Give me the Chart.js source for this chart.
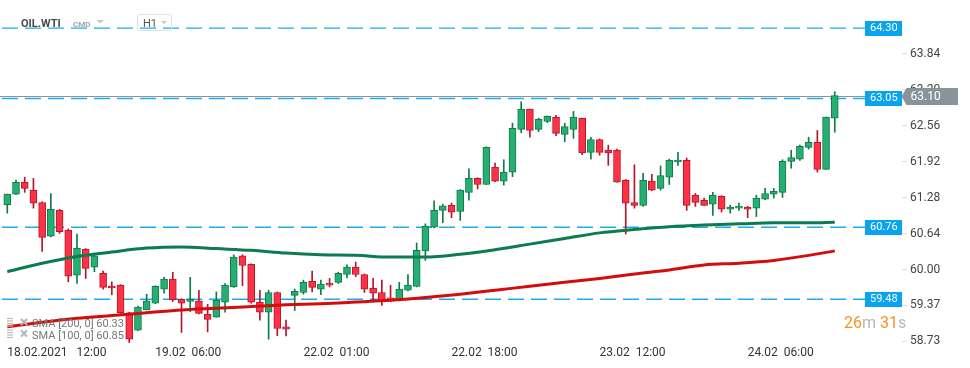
<!DOCTYPE html>
<html>
<head>
<meta charset="utf-8">
<script src="https://cdn.jsdelivr.net/npm/chart.js@4"></script>
<style>
  html, body { margin: 0; padding: 0; background: #fff; }
  canvas { display: block; }
</style>
</head>
<body>
<canvas id="chart" width="970" height="368"></canvas>
<script>
// OIL.WTI H1 candles
const open  = [61.16,61.35,61.56,61.42,61.20,60.60,61.06,60.71,59.91,60.37,60.05,59.94,59.71,59.73,59.24,58.93,59.29,59.41,59.66,59.84,
               59.48,59.44,59.45,59.21,59.16,59.43,59.70,60.25,60.10,59.43,59.25,59.60,58.99,59.55,59.60,59.80,59.66,59.76,59.78,59.92,
               60.05,59.92,59.68,59.60,59.49,59.46,59.64,59.71,60.34,60.76,61.06,61.15,61.04,61.38,61.63,61.52,61.83,61.58,61.74,62.50,
               62.86,62.50,62.64,62.72,62.41,62.50,62.70,62.09,62.32,62.13,62.13,61.60,61.20,61.15,61.58,61.45,61.65,61.92,61.95,61.33,
               61.24,61.17,61.31,61.08,61.10,61.12,61.10,61.26,61.35,61.38,61.93,61.97,62.18,62.27,61.79,62.70];
const high  = [61.35,61.60,61.65,61.63,61.21,61.36,61.08,60.73,60.64,60.38,60.30,59.98,59.79,59.74,59.25,59.36,59.57,59.72,59.87,59.96,
               59.49,59.87,59.64,59.39,59.61,59.76,60.27,60.27,60.11,59.64,59.64,59.61,59.11,59.66,59.82,59.98,59.82,59.85,59.96,60.09,
               60.14,59.93,59.85,59.82,59.73,59.78,59.92,60.48,60.82,61.23,61.17,61.19,61.43,61.80,61.64,62.19,61.90,61.96,62.61,62.99,
               62.86,62.70,62.74,62.75,62.61,62.82,62.70,62.36,62.33,62.22,62.15,61.61,61.87,61.72,61.70,61.85,61.97,62.09,61.99,61.36,
               61.28,61.38,61.32,61.15,61.19,61.13,61.33,61.45,61.45,61.96,62.13,62.22,62.36,62.48,62.72,63.17];
const low   = [61.01,61.34,61.38,61.10,60.33,60.59,60.65,59.79,59.76,59.85,59.97,59.66,59.56,59.23,58.71,58.92,59.29,59.40,59.59,59.44,
               58.89,59.26,59.22,58.90,59.16,59.25,59.69,59.72,59.41,59.11,58.77,58.83,58.83,59.28,59.57,59.61,59.56,59.70,59.76,59.86,
               59.88,59.60,59.47,59.37,59.44,59.45,59.63,59.70,60.17,60.75,60.84,60.93,60.88,61.24,61.44,61.52,61.57,61.51,61.66,62.44,
               62.36,62.46,62.62,62.39,62.28,62.34,62.05,61.97,62.04,61.86,61.56,60.64,61.10,61.13,61.41,61.42,61.52,61.86,61.06,61.13,
               61.15,60.97,61.03,61.01,61.06,60.93,60.95,61.25,61.28,61.29,61.81,61.95,62.15,61.74,61.79,62.45];
const close = [61.35,61.56,61.45,61.19,60.58,61.08,60.68,59.89,60.39,60.03,60.25,59.69,59.68,59.24,58.77,59.34,59.45,59.71,59.84,59.47,
               59.41,59.48,59.23,59.12,59.46,59.73,60.23,60.08,59.43,59.25,59.60,58.96,58.95,59.62,59.78,59.69,59.75,59.73,59.94,60.05,
               59.92,59.66,59.59,59.46,59.47,59.66,59.73,60.35,60.78,61.06,61.14,61.03,61.42,61.63,61.52,62.18,61.58,61.74,62.52,62.86,
               62.48,62.68,62.73,62.43,62.55,62.72,62.08,62.32,62.09,62.08,61.56,61.19,61.15,61.60,61.42,61.68,61.95,61.95,61.15,61.20,
               61.15,61.33,61.08,61.12,61.13,61.08,61.28,61.36,61.40,61.93,62.00,62.20,62.27,61.79,62.72,63.10];

// moving averages, read every 4th candle
const smaIdx = [0,4,8,12,16,20,24,28,32,36,40,44,48,52,56,60,64,68,72,76,80,84,88,92,95];
const sma100 = [59.97,60.12,60.24,60.32,60.39,60.41,60.38,60.35,60.30,60.27,60.26,60.23,60.23,60.28,60.36,60.46,60.56,60.66,60.72,60.77,60.80,60.82,60.84,60.84,60.85];
const sma200 = [58.99,59.07,59.14,59.19,59.24,59.29,59.32,59.35,59.38,59.40,59.43,59.46,59.51,59.57,59.64,59.71,59.78,59.85,59.93,60.00,60.09,60.12,60.17,60.26,60.34];

const tickIdx = [0, 17, 34, 51, 68, 85];
const tickLabels = ['18.02.2021   12:00', '19.02  06:00', '22.02  01:00', '22.02  18:00', '23.02  12:00', '24.02  06:00'];
const yTicks = [58.73, 59.37, 60.00, 60.64, 61.28, 61.92, 62.56, 63.20, 63.84];
const levels = [64.30, 63.05, 60.76, 59.48];
const lastPrice = 63.10;

const upFill = '#26ae73', upLine = '#0f7b4a';
const dnFill = '#fe3246', dnLine = '#b2172b';
const isUp = close.map((c, i) => c >= open[i]);

Chart.defaults.font.family = 'Roboto, "Noto Sans", sans-serif';

const overlay = {
  id: 'overlay',
  beforeDatasetsDraw(chart) {
    const ctx = chart.ctx, y = chart.scales.y;
    ctx.save();
    // horizontal levels
    ctx.strokeStyle = 'rgb(30, 170, 240)';
    ctx.lineWidth = 1.4;
    ctx.setLineDash([16, 7]);
    ctx.lineDashOffset = -2;
    levels.forEach(v => {
      const py = y.getPixelForValue(v);
      ctx.beginPath(); ctx.moveTo(0, py); ctx.lineTo(865, py); ctx.stroke();
    });
    ctx.setLineDash([]);
    // last price line
    const lp = Math.round(y.getPixelForValue(lastPrice)) + 0.5;
    ctx.strokeStyle = '#8c979d';
    ctx.lineWidth = 1;
    ctx.beginPath(); ctx.moveTo(0, lp); ctx.lineTo(902, lp); ctx.stroke();
    ctx.restore();
  },
  afterDraw(chart) {
    const ctx = chart.ctx, y = chart.scales.y;
    ctx.save();
    const font = 'Roboto, "Noto Sans", sans-serif';
    // level boxes
    ctx.textBaseline = 'middle';
    levels.forEach(v => {
      const py = Math.round(y.getPixelForValue(v));
      ctx.fillStyle = '#0aa4ee';
      ctx.fillRect(865, py - 7, 37, 15);
      ctx.fillStyle = '#fff';
      ctx.font = '11px ' + font;
      ctx.fillText(v.toFixed(2), 870, py + 0.5);
    });
    // last price label
    const lp = Math.round(y.getPixelForValue(lastPrice)) + 0.5;
    ctx.fillStyle = '#88939a';
    ctx.beginPath();
    ctx.moveTo(901.5, lp); ctx.lineTo(906.5, lp - 8.5); ctx.lineTo(958, lp - 8.5);
    ctx.lineTo(958, lp + 8.5); ctx.lineTo(906.5, lp + 8.5); ctx.closePath(); ctx.fill();
    ctx.fillStyle = '#fff';
    ctx.font = '12px ' + font;
    ctx.fillText(lastPrice.toFixed(2), 910.5, lp + 0.5);

    // countdown
    ctx.textBaseline = 'alphabetic';
    ctx.font = '16px ' + font;
    let x = 844;
    [['26', '#f7941d'], ['m ', '#b8b8b8'], ['31', '#f7941d'], ['s', '#b8b8b8']].forEach(([t, col]) => {
      ctx.fillStyle = col; ctx.fillText(t, x, 328); x += ctx.measureText(t).width;
    });

    // header
    ctx.font = 'bold 11px ' + font;
    ctx.fillStyle = '#4b4b4b';
    ctx.fillText('OIL.WTI', 21, 27);
    ctx.font = 'bold 8px ' + font;
    ctx.fillStyle = '#9aa6b2';
    ctx.fillText('CMD', 73, 27);
    ctx.fillStyle = '#c8c8c8';
    ctx.beginPath(); ctx.moveTo(96.5, 20); ctx.lineTo(104, 20); ctx.lineTo(100.25, 23.5); ctx.fill();
    ctx.strokeStyle = '#e0e0e0'; ctx.lineWidth = 1;
    ctx.beginPath(); ctx.roundRect(137.5, 14.5, 34, 16, 2); ctx.stroke();
    ctx.font = '11px ' + font;
    ctx.fillStyle = '#555';
    ctx.fillText('H1', 143, 27);
    ctx.fillStyle = '#c8c8c8';
    ctx.beginPath(); ctx.moveTo(161, 21); ctx.lineTo(167, 21); ctx.lineTo(164, 24); ctx.fill();

    // SMA legend
    [['SMA [200, 0] 60.33', 327], ['SMA [100, 0] 60.85', 338.5]].forEach(([t, by]) => {
      ctx.strokeStyle = '#bcbcbc'; ctx.lineWidth = 1.2;
      for (let k = 0; k < 4; k++) {
        ctx.beginPath(); ctx.moveTo(7, by - 8.5 + k * 2.5); ctx.lineTo(13, by - 8.5 + k * 2.5); ctx.stroke();
      }
      ctx.strokeStyle = '#b4b4b4'; ctx.lineWidth = 2;
      ctx.beginPath(); ctx.moveTo(21, by - 8); ctx.lineTo(27, by - 2); ctx.moveTo(27, by - 8); ctx.lineTo(21, by - 2); ctx.stroke();
      ctx.font = '11px ' + font;
      ctx.fillStyle = '#777';
      ctx.fillText(t, 32, by);
    });
    ctx.restore();
  }
};

new Chart(document.getElementById('chart'), {
  type: 'bar',
  data: {
    datasets: [
      {
        type: 'line',
        label: 'SMA 100',
        data: smaIdx.map((i, k) => ({ x: i, y: sma100[k] })),
        borderColor: '#0a7c4e',
        borderWidth: 3,
        pointRadius: 0,
        cubicInterpolationMode: 'monotone',
        order: 0,
      },
      {
        type: 'line',
        label: 'SMA 200',
        data: smaIdx.map((i, k) => ({ x: i, y: sma200[k] })),
        borderColor: '#d30d0d',
        borderWidth: 3,
        pointRadius: 0,
        cubicInterpolationMode: 'monotone',
        order: 0,
      },
      {
        label: 'body',
        data: close.map((c, i) => ({ x: i, y: [open[i], c] })),
        backgroundColor: isUp.map(u => (u ? upFill : dnFill)),
        borderColor: isUp.map(u => (u ? upLine : dnLine)),
        borderWidth: 1,
        borderSkipped: false,
        barThickness: 7,
        minBarLength: 2,
        grouped: false,
        order: 1,
      },
      {
        label: 'wick',
        data: high.map((h, i) => ({ x: i, y: [low[i], h] })),
        backgroundColor: isUp.map(u => (u ? upLine : dnLine)),
        borderWidth: 0,
        barThickness: 1,
        grouped: false,
        order: 2,
      },
    ],
  },
  options: {
    responsive: false,
    animation: false,
    layout: { padding: 0 },
    plugins: { legend: { display: false }, tooltip: { enabled: false } },
    scales: {
      x: {
        type: 'linear',
        min: -0.838,
        max: 102.72,
        offset: false,
        afterBuildTicks: (s) => { s.ticks = tickIdx.map(v => ({ value: v })); },
        afterFit: (s) => { s.height = 25; s.paddingLeft = 0; s.paddingRight = 0; },
        grid: { display: false, drawTicks: false },
        border: { display: false },
        ticks: {
          align: 'start',
          padding: 3,
          autoSkip: false,
          maxRotation: 0,
          color: '#333',
          font: { size: 12 },
          callback: (v) => tickLabels[tickIdx.indexOf(v)],
        },
      },
      y: {
        position: 'right',
        min: 58.702,
        max: 64.8,
        afterBuildTicks: (s) => { s.ticks = yTicks.map(v => ({ value: v })); },
        afterFit: (s) => { s.width = 68; s.paddingTop = 0; s.paddingBottom = 0; },
        grid: { drawOnChartArea: false, drawTicks: true, tickLength: 5, color: '#dcdcdc' },
        border: { display: false },
        ticks: {
          padding: 3,
          color: '#444',
          font: { size: 12 },
          crossAlign: 'near',
          callback: (v) => v.toFixed(2),
        },
      },
    },
  },
  plugins: [overlay],
});
</script>
</body>
</html>
